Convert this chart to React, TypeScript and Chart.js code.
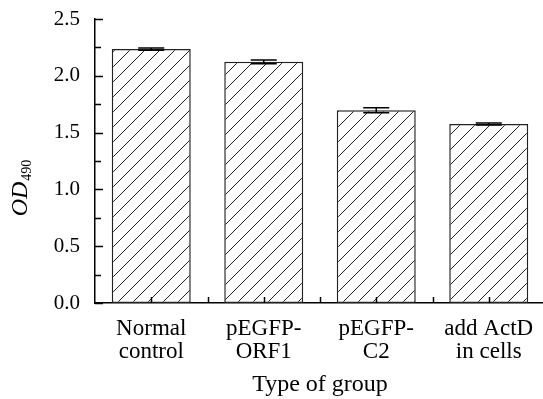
import React, { useEffect, useRef } from "react";
import { Chart, registerables } from "chart.js";
Chart.register(...registerables);

const categories = [["Normal", "control"], ["pEGFP-", "ORF1"], ["pEGFP-", "C2"], ["add ActD", "in cells"]];
const values = [2.235, 2.123, 1.697, 1.576];
const errors = [0.01, 0.017, 0.022, 0.008];
const yMajorTicks = [0, 0.5, 1.0, 1.5, 2.0, 2.5];
const yMinorTicks = [0.25, 0.75, 1.25, 1.75, 2.25];
const xTitle = "Type of group";

const FONT = '"Liberation Serif", "Times New Roman", serif';

function makePattern(): CanvasPattern | string {
  const s = 15;
  const c = document.createElement("canvas");
  c.width = s;
  c.height = s;
  const g = c.getContext("2d");
  if (!g) return "#fff";
  g.fillStyle = "#ffffff";
  g.fillRect(0, 0, s, s);
  g.strokeStyle = "#222";
  g.lineWidth = 1;
  g.beginPath();
  g.moveTo(-1, s + 1);
  g.lineTo(s + 1, -1);
  g.moveTo(-1, 1);
  g.lineTo(1, -1);
  g.moveTo(s - 1, s + 1);
  g.lineTo(s + 1, s - 1);
  g.stroke();
  const p = g.createPattern(c, "repeat");
  return p || "#fff";
}

const decorPlugin = {
  id: "decor",
  afterDatasetsDraw(chart: any) {
    const ctx = chart.ctx as CanvasRenderingContext2D;
    const x = chart.scales.x;
    const y = chart.scales.y;
    const area = chart.chartArea;
    ctx.save();
    // error bars
    const meta = chart.getDatasetMeta(0);
    ctx.strokeStyle = "#000";
    ctx.lineWidth = 1.5;
    values.forEach((v, i) => {
      const cx = meta.data[i].x;
      const yt = y.getPixelForValue(v + errors[i]);
      const yb = y.getPixelForValue(v - errors[i]);
      const hw = 13;
      ctx.beginPath();
      ctx.moveTo(cx, yt);
      ctx.lineTo(cx, yb);
      ctx.moveTo(cx - hw, yt);
      ctx.lineTo(cx + hw, yt);
      ctx.moveTo(cx - hw, yb);
      ctx.lineTo(cx + hw, yb);
      ctx.stroke();
    });
    // y ticks inward
    ctx.lineWidth = 1.5;
    ctx.beginPath();
    yMajorTicks.forEach((t) => {
      const py = Math.round(y.getPixelForValue(t)) + 0.5;
      ctx.moveTo(area.left, py);
      ctx.lineTo(area.left + 8, py);
    });
    yMinorTicks.forEach((t) => {
      const py = Math.round(y.getPixelForValue(t)) + 0.5;
      ctx.moveTo(area.left, py);
      ctx.lineTo(area.left + 6, py);
    });
    // x ticks inward: centers and boundaries
    const n = categories.length;
    for (let i = 0; i < n; i++) {
      const cx = Math.round(x.getPixelForValue(i)) + 0.5;
      ctx.moveTo(cx, area.bottom);
      ctx.lineTo(cx, area.bottom - 6);
      if (i < n - 1) {
        const bx = Math.round((x.getPixelForValue(i) + x.getPixelForValue(i + 1)) / 2) + 0.5;
        ctx.moveTo(bx, area.bottom);
        ctx.lineTo(bx, area.bottom - 6);
      }
    }
    ctx.stroke();
    // y title with subscript
    ctx.translate(19, 188);
    ctx.rotate(-Math.PI / 2);
    ctx.fillStyle = "#000";
    ctx.textBaseline = "alphabetic";
    const mainFont = "italic 24px " + FONT;
    const subFont = "14px " + FONT;
    ctx.font = mainFont;
    const w1 = ctx.measureText("OD").width;
    ctx.font = subFont;
    const w2 = ctx.measureText("490").width;
    const total = w1 + w2 + 1;
    ctx.font = mainFont;
    ctx.textAlign = "left";
    ctx.fillText("OD", -total / 2, 8);
    ctx.font = subFont;
    ctx.fillText("490", -total / 2 + w1 + 1, 12);
    ctx.restore();
  },
};

export default function App() {
  const ref = useRef<HTMLCanvasElement | null>(null);
  useEffect(() => {
    if (!ref.current) return;
    const pattern = makePattern();
    const chart = new Chart(ref.current, {
      type: "bar",
      data: {
        labels: categories,
        datasets: [
          {
            data: values,
            backgroundColor: pattern as any,
            borderColor: "#222",
            borderWidth: 1.5,
            borderSkipped: false,
            categoryPercentage: 1,
            barPercentage: 0.702,
          },
        ],
      },
      options: {
        animation: false,
        responsive: false,
        devicePixelRatio: 1,
        layout: { padding: { top: 19, right: 15, left: 0, bottom: 0 } },
        plugins: { legend: { display: false }, tooltip: { enabled: false } },
        scales: {
          x: {
            type: "category",
            grid: { display: false, drawTicks: false },
            border: { display: true, color: "#000", width: 1.5 },
            ticks: {
              color: "#000",
              font: { family: FONT, size: 23, lineHeight: 1.0 },
              padding: 14,
              maxRotation: 0,
              autoSkip: false,
            },
            title: {
              display: true,
              text: xTitle,
              color: "#000",
              font: { family: FONT, size: 24 },
              padding: { top: 2, bottom: 0 },
            },
            afterFit(scale: any) {
              scale.height = 96;
              scale.paddingLeft = 0;
              scale.paddingRight = 0;
            },
          },
          y: {
            min: 0,
            max: 2.5,
            grid: { display: false, drawTicks: false },
            border: { display: true, color: "#000", width: 1.5 },
            ticks: {
              stepSize: 0.5,
              color: "#000",
              font: { family: FONT, size: 21 },
              padding: 15,
              callback: (v: any) => Number(v).toFixed(1),
            },
            afterFit(scale: any) {
              scale.width = 95;
              scale.paddingTop = 0;
              scale.paddingBottom = 0;
            },
          },
        },
      },
      plugins: [decorPlugin],
    });
    return () => chart.destroy();
  }, []);
  return (
    <div style={{ position: "fixed", left: 0, top: 0, width: 543, height: 399, overflow: "hidden", background: "#fff" }}>
      <canvas ref={ref} width={560} height={399} style={{ width: 560, height: 399, display: "block" }} />
    </div>
  );
}
